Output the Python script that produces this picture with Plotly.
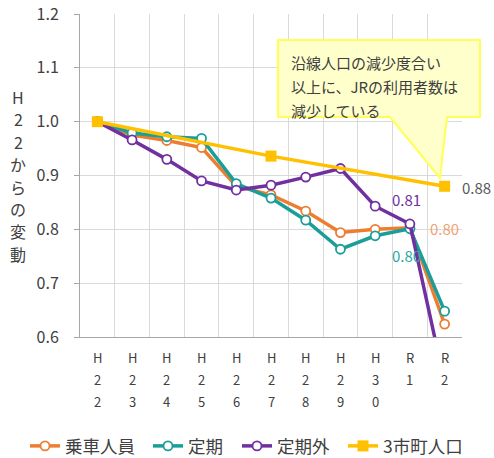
import plotly.graph_objects as go

categories = ["H22", "H23", "H24", "H25", "H26", "H27", "H28", "H29", "H30", "R1", "R2"]
tick_labels = ["H22", "H23", "H24", "H25", "H26", "H27", "H28", "H29", "H30", "R1", "R2"]
jousha = [1.0, 0.975, 0.965, 0.952, 0.880, 0.864, 0.834, 0.794, 0.800, 0.803, 0.624]
teiki = [1.0, 0.979, 0.972, 0.969, 0.885, 0.858, 0.817, 0.763, 0.788, 0.801, 0.648]
teikigai = [1.0, 0.966, 0.930, 0.890, 0.873, 0.882, 0.897, 0.913, 0.843, 0.810, 0.515]
jinko = [1.0, None, None, None, None, 0.936, None, None, None, None, 0.88]

FONT = "Noto Sans CJK JP"
TXT = "#404040"
ORANGE = "#ED7D31"
TEAL = "#1A9E98"
PURPLE = "#7030A0"
YELLOW = "#FFC000"

W, H = 494, 458
L, R, T, B = 80, 32, 14, 121
PW, PH = W - L - R, H - T - B


def px(x):
    return (x - L) / PW


def py(y):
    return (H - B - y) / PH


fig = go.Figure()


def circ_trace(name, vals, color, legend):
    fig.add_trace(go.Scatter(
        x=categories, y=vals, name=name, mode="lines+markers", legend=legend,
        line=dict(color=color, width=3.5),
        marker=dict(symbol="circle", size=9, color="white",
                    line=dict(color=color, width=1.8)),
    ))


circ_trace("乗車人員", jousha, ORANGE, "legend")
circ_trace("定期", teiki, TEAL, "legend2")
circ_trace("定期外", teikigai, PURPLE, "legend3")
fig.add_trace(go.Scatter(
    x=categories, y=jinko, name="3市町人口", mode="lines+markers", legend="legend4",
    connectgaps=True,
    line=dict(color=YELLOW, width=3.5),
    marker=dict(symbol="square", size=11, color=YELLOW),
))

# data labels
anns = []
anns.append(dict(x="R1", y=teikigai[9], text=f"{teikigai[9]:.2f}", showarrow=False,
                 yshift=24, xshift=-3, font=dict(color=PURPLE, size=15, family=FONT)))
anns.append(dict(x="R1", y=jousha[9], text=f"{jousha[9]:.2f}", showarrow=False,
                 xshift=35, yshift=-1, font=dict(color="#F4A070", size=15, family=FONT)))
anns.append(dict(x="R1", y=teiki[9], text=f"{teiki[9]:.2f}", showarrow=False,
                 xshift=-3, yshift=-27, font=dict(color="#2BA8A0", size=15, family=FONT)))
anns.append(dict(x="R2", y=jinko[10], text=f"{jinko[10]:.2f}", showarrow=False,
                 xshift=32, yshift=-1, font=dict(color="#595959", size=15, family=FONT)))

# x tick labels, stacked characters
for cat, lab in zip(categories, tick_labels):
    for j, ch in enumerate(lab):
        anns.append(dict(x=cat, y=py(357 + 22 * j), yref="paper", text=ch, showarrow=False,
                         yanchor="middle", font=dict(color=TXT, size=13, family=FONT)))

# y axis title, stacked characters
ytitle = "H22からの変動"
for j, ch in enumerate(ytitle):
    anns.append(dict(x=px(18), y=py(97 + 22.4 * j), xref="paper", yref="paper", text=ch,
                     showarrow=False, yanchor="middle", xanchor="center", borderpad=0,
                     font=dict(color=TXT, size=16, family=FONT)))

# callout text
callout_lines = ["沿線人口の減少度合い", "以上に、JRの利用者数は", "減少している"]
for j, line in enumerate(callout_lines):
    anns.append(dict(x=px(289), y=py(62 + 24 * j), xref="paper", yref="paper", text=line,
                     showarrow=False, xanchor="left", yanchor="middle",
                     font=dict(color=TXT, size=15, family=FONT)))

# callout box with wedge
bx0, bx1, by0, by1 = 278, 480, 40, 117
wl, wr, tx, ty = 390, 447, 440, 178
path = (f"M {px(bx0)},{py(by0)} L {px(bx1)},{py(by0)} L {px(bx1)},{py(by1)} "
        f"L {px(wr)},{py(by1)} L {px(tx)},{py(ty)} L {px(wl)},{py(by1)} "
        f"L {px(bx0)},{py(by1)} Z")
fig.add_shape(type="path", path=path, xref="paper", yref="paper",
              fillcolor="#FFFFCC", line=dict(color="#FFFF55", width=2), layer="above")

leg_common = dict(orientation="h", xref="container", yref="container",
                  xanchor="left", y=1 - 446 / H, yanchor="middle",
                  font=dict(size=17.5, color=TXT, family=FONT),
                  itemwidth=30, tracegroupgap=0, bgcolor="rgba(0,0,0,0)")

fig.update_layout(
    width=W, height=H,
    margin=dict(l=L, r=R, t=T, b=B, autoexpand=False),
    paper_bgcolor="white", plot_bgcolor="white",
    font=dict(family=FONT, color=TXT),
    annotations=anns,
    showlegend=True,
    legend=dict(x=25 / W, **leg_common),
    legend2=dict(x=148 / W, **leg_common),
    legend3=dict(x=237 / W, **leg_common),
    legend4=dict(x=343 / W, **leg_common),
    xaxis=dict(type="category", categoryorder="array", categoryarray=categories,
               range=[-0.5, 10.5], tickson="boundaries", showticklabels=False,
               showgrid=True, gridcolor="#D9D9D9", gridwidth=1, automargin=False,
               showline=True, linecolor="#A6A6A6", linewidth=1, ticks="", zeroline=False,
               fixedrange=True),
    yaxis=dict(range=[0.6, 1.2], dtick=0.1, tickformat=".1f", automargin=False,
               showgrid=True, gridcolor="#D9D9D9", gridwidth=1,
               showline=True, linecolor="#A6A6A6", linewidth=1,
               ticks="outside", ticklen=5, tickcolor="#A6A6A6",
               ticklabelstandoff=12, zeroline=False,
               tickfont=dict(size=16, color=TXT, family=FONT)),
)

fig.write_html("out.html", config={"displayModeBar": False},
               post_script="document.body.style.margin='0';")
